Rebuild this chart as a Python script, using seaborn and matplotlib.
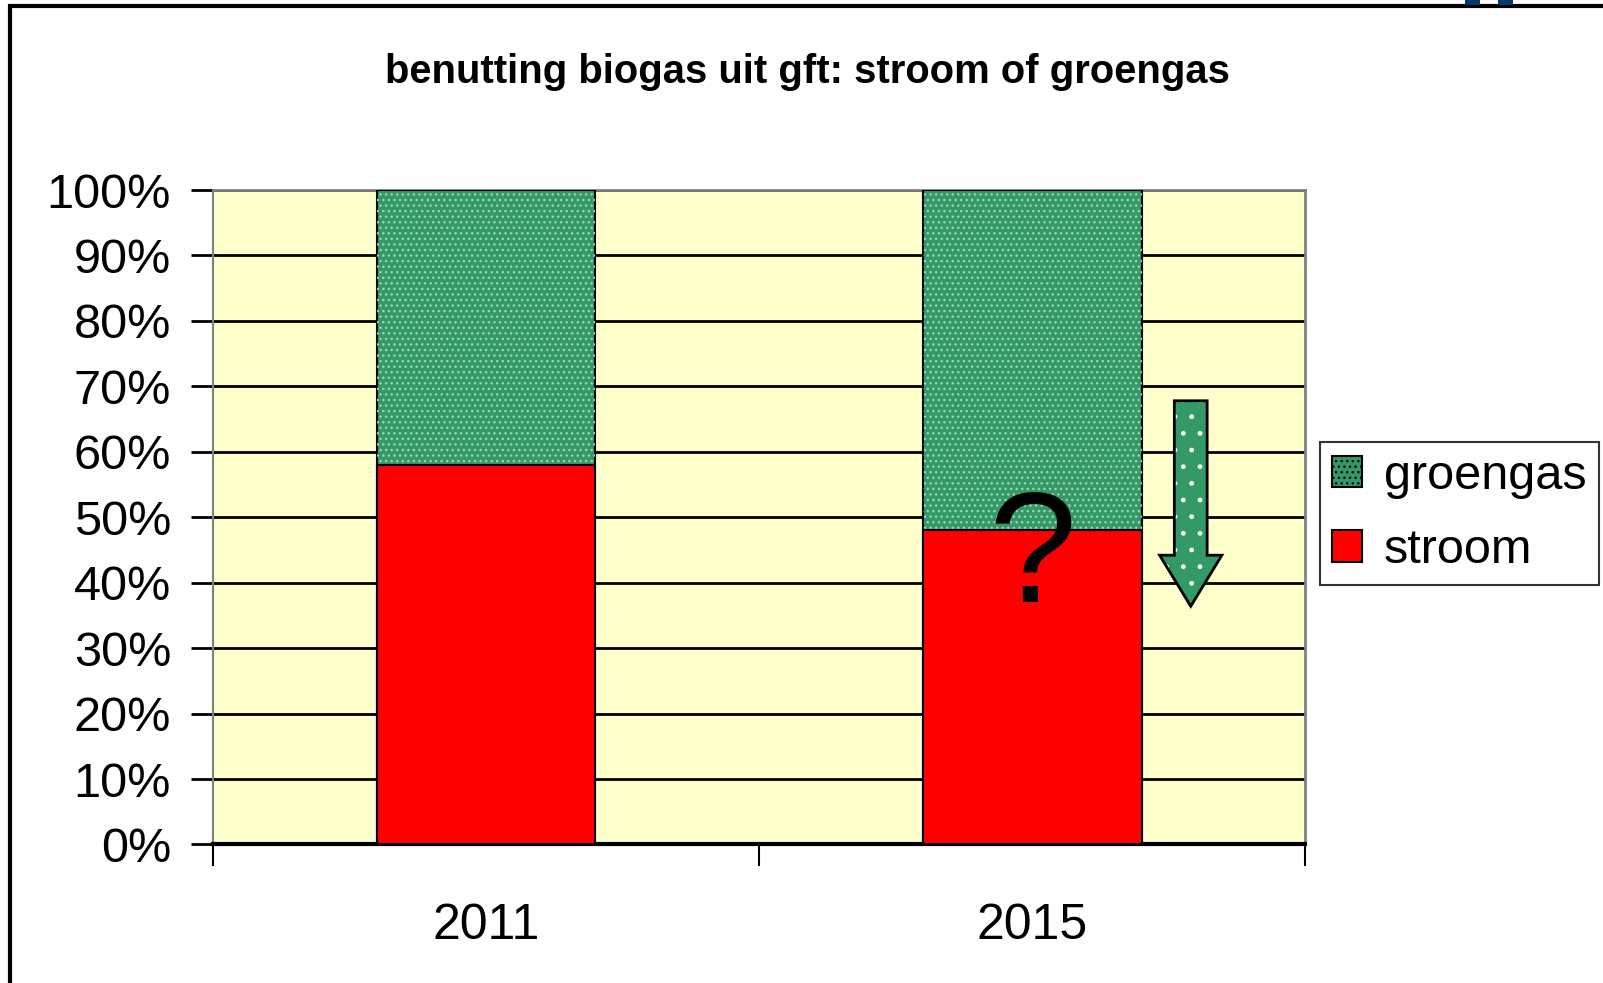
import numpy as np
import pandas as pd
import matplotlib
matplotlib.use("Agg")
import matplotlib.pyplot as plt
import seaborn as sns
from matplotlib.patches import Rectangle, FancyArrow, Patch
from matplotlib.ticker import FixedLocator, PercentFormatter

# ---- data ----
years = ["2011", "2015"]
stroom = [58, 48]          # % electricity
groengas = [42, 52]        # % green gas
y_ticks = [0, 10, 20, 30, 40, 50, 60, 70, 80, 90, 100]
title = "benutting biogas uit gft: stroom of groengas"

GREEN = "#339966"
RED = "#FF0000"
BG = "#FFFFCC"

sns.set_theme(style="white")
plt.rcParams["font.family"] = ["Liberation Sans", "DejaVu Sans"]
plt.rcParams["hatch.linewidth"] = 1.0
plt.rcParams["text.color"] = "black"
plt.rcParams["xtick.color"] = "black"
plt.rcParams["ytick.color"] = "black"
plt.rcParams["axes.labelcolor"] = "black"

fig = plt.figure(figsize=(16.03, 9.83), dpi=100)
ax = fig.add_axes([0.1327, 0.1409, 0.8144 - 0.1327, 0.8067 - 0.1409])
ax.set_facecolor(BG)

df = pd.DataFrame({"year": years, "stroom": stroom, "groengas": groengas})
df["total"] = df["stroom"] + df["groengas"]

sns.barplot(data=df, x="year", y="total", color=GREEN, saturation=1, width=0.40,
            edgecolor="black", linewidth=1.5, ax=ax, zorder=3)
green_patches = list(ax.patches)
sns.barplot(data=df, x="year", y="stroom", color=RED, saturation=1, width=0.40,
            edgecolor="black", linewidth=1.5, ax=ax, zorder=4)

# dotted overlay on green bars
for p in green_patches:
    r = Rectangle(p.get_xy(), p.get_width(), p.get_height(), facecolor="none",
                  edgecolor="#9fd3b3", linewidth=0, hatch="...", zorder=3.5)
    ax.add_patch(r)

ax.set_xlim(-0.5, 1.5)
ax.set_ylim(0, 100)

# gridlines
ax.yaxis.set_major_locator(FixedLocator(y_ticks))
ax.yaxis.set_major_formatter(PercentFormatter(decimals=0))
ax.grid(axis="y", color="black", linewidth=2, zorder=1)
ax.set_axisbelow(True)

# x ticks at category boundaries, labels at centres
ax.set_xticks([-0.5, 0.5, 1.5])
ax.set_xticklabels([])
ax.set_xticks([0, 1], minor=True)
ax.set_xticklabels(years, minor=True)
ax.tick_params(axis="x", which="major", direction="out", length=16, width=1.5,
               color="black", bottom=True)
ax.tick_params(axis="x", which="minor", length=0, pad=42, labelsize=36,
               labelcolor="black")
ax.tick_params(axis="y", direction="out", length=16, width=2, color="black",
               left=True, pad=14, labelsize=35, labelcolor="black")
ax.set_xlabel("")
ax.set_ylabel("")

for s in ["top", "right"]:
    ax.spines[s].set_color("#808080")
    ax.spines[s].set_linewidth(2)
ax.spines["left"].set_color("#808080")
ax.spines["left"].set_linewidth(1.5)
ax.spines["bottom"].set_color("black")
ax.spines["bottom"].set_linewidth(3)

# question mark
ax.text(1.0, 43.3, "?", ha="center", va="center", fontsize=114, color="black", zorder=6)

# arrow: fill + dotted layer + outline
arrow_kw = dict(width=0.060, head_width=0.114, head_length=7.8,
                length_includes_head=True)
a1 = FancyArrow(1.29, 67.8, 0, -31.4, facecolor=GREEN, edgecolor="none", zorder=6, **arrow_kw)
a2 = FancyArrow(1.29, 67.8, 0, -31.4, facecolor="none", edgecolor="white", linewidth=0,
                hatch=".", zorder=6.5, **arrow_kw)
a3 = FancyArrow(1.29, 67.8, 0, -31.4, facecolor="none", edgecolor="black", linewidth=2,
                zorder=7, **arrow_kw)
for a in (a1, a2, a3):
    ax.add_patch(a)

# title
fig.text(0.504, 1 - 70 / 983 * 1.0223, title, ha="center", va="center",
         fontsize=28.8, fontweight="bold", color="black")

# legend
handles = [Patch(facecolor=GREEN, edgecolor="black", linewidth=1.5, hatch="..."),
           Patch(facecolor=RED, edgecolor="black", linewidth=1.5)]
leg = fig.legend(handles, ["groengas", "stroom"], loc="upper left",
                 bbox_to_anchor=(0.8234, 0.5508), borderaxespad=0, fontsize=35,
                 fancybox=False, frameon=True, handlelength=0.62, handleheight=0.62,
                 handletextpad=0.45, labelspacing=0.6, borderpad=0.25,
                 labelcolor="black")
leg.get_frame().set_edgecolor("black")
leg.get_frame().set_linewidth(1.5)

# figure frame
fig.add_artist(Rectangle((10 / 1603, -0.1), 1.2, 1.1 - 6 / 983, transform=fig.transFigure,
                         facecolor="none", edgecolor="black", linewidth=3))
# logo fragment top right
fig.add_artist(Rectangle((1465 / 1603, 1 - 5 / 983), 15 / 1603, 5 / 983,
                         transform=fig.transFigure, facecolor="#0a3470", edgecolor="none"))
fig.add_artist(Rectangle((1498 / 1603, 1 - 5 / 983), 15 / 1603, 5 / 983,
                         transform=fig.transFigure, facecolor="#0a3470", edgecolor="none"))

fig.savefig("out.png", dpi=100, facecolor="white")
